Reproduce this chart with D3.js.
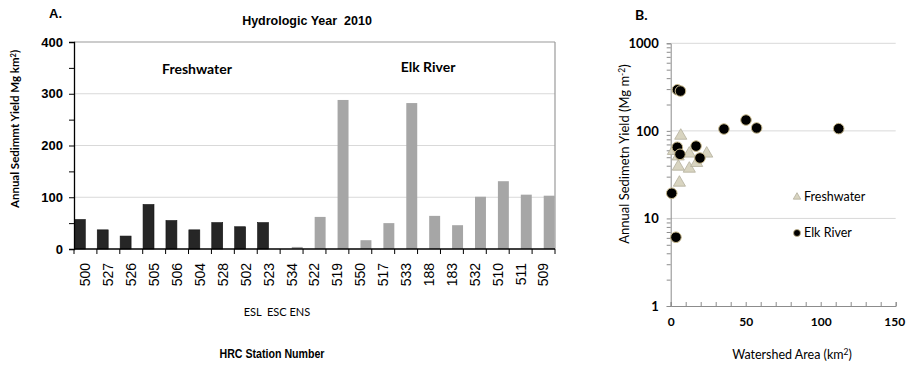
<!DOCTYPE html>
<html>
<head>
<meta charset="utf-8">
<script src="https://cdn.jsdelivr.net/npm/d3@7"></script>
<style>
  html, body { margin: 0; padding: 0; background: #fff; }
  svg { display: block; }
</style>
</head>
<body>
<svg id="chart" width="906" height="367"></svg>
<script>
// ---------------- DATA ----------------
const freshwaterStations = ["500", "527", "526", "505", "506", "504", "528", "502", "523"];
const freshwaterBarYield = [57, 37, 25, 86, 55, 37, 51, 43, 51];
const elkStations = ["534", "522", "519", "550", "517", "533", "188", "183", "532", "510", "511", "509"];
const elkBarYield = [4, 62, 288, 17, 50, 282, 64, 46, 101, 131, 105, 103];
const seriesNames = ["Freshwater", "Elk River"];
const yTicksA = [0, 50, 100, 150, 200, 250, 300, 350, 400];
const yLabelsA = [0, 100, 200, 300, 400];

// Panel B scatter (watershed area km², annual yield)
const freshwaterArea = [6.7, 1.8, 12.4, 24, 5.1, 12.4, 17.3, 5.8, 5.0];
const freshwaterScatterYield = [88, 59, 55, 55, 39, 37, 43, 25.6, 51];
const elkArea = [4.5, 6.5, 35.5, 50.2, 57.3, 112, 4.4, 16.9, 6.2, 19.5, 0.7, 3.5];
const elkScatterYield = [295, 285, 105, 133, 108, 106, 65, 67, 54, 49, 19.4, 6.1];
const yTicksB = [1, 10, 100, 1000];
const xTicksB = [0, 50, 100, 150];

// ---------------- STYLE ----------------
const ARIAL = "'Liberation Sans', Arial, sans-serif";
const CALIBRI = "Lato, Carlito, Calibri, sans-serif";

const svg = d3.select("#chart");

// ================= PANEL A =================
const A = { left: 74, right: 555, top: 42, bottom: 249 };
const categories = freshwaterStations.concat(elkStations);
const xA = d3.scaleBand().domain(categories).range([A.left, A.right]).padding(0);
const xSub = d3.scaleBand().domain(seriesNames).range([0, xA.bandwidth()])
  .paddingInner(0.03).paddingOuter(0.03);
const yA = d3.scaleLinear().domain([0, 400]).range([A.bottom, A.top]);

const gA = svg.append("g");

// gridlines
gA.append("g").selectAll("line")
  .data(yLabelsA.filter(d => d > 0 && d < 400))
  .join("line")
  .attr("x1", A.left).attr("x2", A.right)
  .attr("y1", d => yA(d)).attr("y2", d => yA(d))
  .attr("stroke", "#d9d9d9").attr("stroke-width", 1);

// top and right border
gA.append("line").attr("x1", A.left).attr("x2", A.right)
  .attr("y1", yA(400)).attr("y2", yA(400))
  .attr("stroke", "#9a9a9a").attr("stroke-width", 1.2);
gA.append("line").attr("x1", A.right).attr("x2", A.right)
  .attr("y1", yA(400)).attr("y2", yA(0))
  .attr("stroke", "#9a9a9a").attr("stroke-width", 1.2);

// bars
const barsData = [];
freshwaterStations.forEach((s, i) => barsData.push({ station: s, series: "Freshwater", value: freshwaterBarYield[i] }));
elkStations.forEach((s, i) => barsData.push({ station: s, series: "Elk River", value: elkBarYield[i] }));

gA.append("g").selectAll("rect")
  .data(barsData)
  .join("rect")
  .attr("x", d => xA(d.station) + xSub(d.series))
  .attr("width", xSub.bandwidth())
  .attr("y", d => yA(d.value))
  .attr("height", d => yA(0) - yA(d.value))
  .attr("fill", d => d.series === "Freshwater" ? "#262626" : "#a6a6a6")
  .attr("stroke", d => d.series === "Freshwater" ? "#111" : "none")
  .attr("stroke-width", 0.6);

// left axis
const yAxisA = d3.axisLeft(yA).tickValues(yTicksA).tickSize(5)
  .tickFormat(d => yLabelsA.includes(d) ? d : "");
const gyA = gA.append("g").attr("transform", `translate(${A.left},0)`).call(yAxisA);
gyA.select(".domain").attr("stroke", "#000").attr("stroke-width", 1.3);
gyA.selectAll(".tick line").attr("stroke", "#000");
gyA.selectAll(".tick text").attr("font-family", ARIAL).attr("font-weight", "bold")
  .attr("font-size", "13px").attr("fill", "#000").attr("x", -11);

// bottom axis: labels
const xAxisA = d3.axisBottom(xA).tickSize(0).tickPadding(0);
const gxA = gA.append("g").attr("transform", `translate(0,${A.bottom})`).call(xAxisA);
gxA.select(".domain").remove();
gxA.selectAll(".tick text")
  .attr("font-family", ARIAL).attr("font-size", "14px").attr("fill", "#000")
  .attr("transform", "rotate(-90)")
  .attr("text-anchor", "end")
  .attr("dy", "0.35em")
  .attr("x", -14).attr("y", 0);
// bottom axis line and boundary ticks
gA.append("line").attr("x1", A.left).attr("x2", A.right)
  .attr("y1", A.bottom).attr("y2", A.bottom)
  .attr("stroke", "#000").attr("stroke-width", 1.3);
const boundaries = categories.map(c => xA(c)).concat([xA.range()[1]]);
gA.append("g").selectAll("line")
  .data(boundaries)
  .join("line")
  .attr("x1", d => d).attr("x2", d => d)
  .attr("y1", A.bottom).attr("y2", A.bottom + 5)
  .attr("stroke", "#000").attr("stroke-width", 1);

// texts panel A
gA.append("text").text("A.").attr("x", 49).attr("y", 18)
  .attr("font-family", ARIAL).attr("font-weight", "bold").attr("font-size", "13px");
gA.append("text").text("Hydrologic Year  2010").attr("x", 307).attr("y", 25)
  .attr("text-anchor", "middle").attr("xml:space", "preserve")
  .attr("font-family", ARIAL).attr("font-weight", "bold").attr("font-size", "12.5px");
gA.append("text").text("Freshwater").attr("x", 197).attr("y", 74)
  .attr("text-anchor", "middle")
  .attr("font-family", CALIBRI).attr("font-weight", "bold").attr("font-size", "14px");
gA.append("text").text("Elk River").attr("x", 428).attr("y", 72)
  .attr("text-anchor", "middle")
  .attr("font-family", CALIBRI).attr("font-weight", "bold").attr("font-size", "14px");
gA.append("text").text("ESL  ESC ENS").attr("x", 277).attr("y", 316)
  .attr("text-anchor", "middle").attr("xml:space", "preserve")
  .attr("font-family", CALIBRI).attr("font-size", "11px");
gA.append("text").text("HRC Station Number").attr("x", 272).attr("y", 358)
  .attr("text-anchor", "middle")
  .attr("font-family", ARIAL).attr("font-weight", "bold").attr("font-size", "12px")
  .attr("textLength", 105).attr("lengthAdjust", "spacingAndGlyphs");
const yLabA = gA.append("text")
  .attr("transform", "translate(19,129) rotate(-90)")
  .attr("text-anchor", "middle")
  .attr("font-family", CALIBRI).attr("font-weight", "bold").attr("font-size", "11.5px");
yLabA.append("tspan").text("Annual Sedimmt Yield Mg km");
yLabA.append("tspan").text("2").attr("font-size", "7.5px").attr("dy", "-0.45em");
yLabA.append("tspan").text(")").attr("dy", "0.3em");

// ================= PANEL B =================
const B = { left: 670.7, right: 895.7, top: 43.3, bottom: 306 };
const xB = d3.scaleLinear().domain([0, 150]).range([B.left, B.right]);
const yB = d3.scaleLog().domain([1, 1000]).range([B.bottom, B.top]);
const gB = svg.append("g");

// gridlines
gB.append("g").selectAll("line")
  .data(yTicksB.filter(d => d > 1))
  .join("line")
  .attr("x1", B.left).attr("x2", B.right)
  .attr("y1", d => yB(d)).attr("y2", d => yB(d))
  .attr("stroke", "#d9d9d9").attr("stroke-width", 1);

// y axis with minor log ticks
const minorB = [];
[1, 10, 100].forEach(dec => { for (let k = 1; k <= 9; k++) minorB.push(k * dec); });
minorB.push(1000);
const yAxisB = d3.axisLeft(yB).tickValues(minorB).tickSize(4)
  .tickFormat(d => yTicksB.includes(d) ? d : "");
const gyB = gB.append("g").attr("transform", `translate(${B.left},0)`).call(yAxisB);
gyB.select(".domain").attr("stroke", "#8c8c8c");
gyB.selectAll(".tick line").attr("stroke", "#8c8c8c");
gyB.selectAll(".tick text").attr("font-family", CALIBRI).attr("font-weight", "bold")
  .attr("font-size", "13px").attr("fill", "#000").attr("x", -12);

// x axis
const xAxisB = d3.axisBottom(xB).tickValues(d3.range(0, 151, 10)).tickSize(-4)
  .tickFormat(d => xTicksB.includes(d) ? d : "");
const gxB = gB.append("g").attr("transform", `translate(0,${B.bottom})`).call(xAxisB);
gxB.select(".domain").attr("stroke", "#8c8c8c");
gxB.selectAll(".tick line").attr("stroke", "#8c8c8c");
gxB.selectAll(".tick text").attr("font-family", CALIBRI).attr("font-weight", "bold")
  .attr("font-size", "12px").attr("fill", "#000").attr("y", 11)
  .attr("text-anchor", d => d === 150 ? "end" : "middle")
  .attr("x", d => d === 150 ? 9 : 0);

// points: triangles first, circles on top
const tri = d3.symbol(d3.symbolTriangle, 64);
gB.append("g").selectAll("path")
  .data(freshwaterArea.map((a, i) => ({ a, y: freshwaterScatterYield[i] })))
  .join("path")
  .attr("d", tri)
  .attr("transform", d => `translate(${xB(d.a)},${yB(d.y)})`)
  .attr("fill", "#d8d4c0").attr("stroke", "#b3af9c").attr("stroke-width", 0.8);
gB.append("g").selectAll("circle")
  .data(elkArea.map((a, i) => ({ a, y: elkScatterYield[i] })))
  .join("circle")
  .attr("cx", d => xB(d.a)).attr("cy", d => yB(d.y))
  .attr("r", 5.3)
  .attr("fill", "#000").attr("stroke", "#c8b98c").attr("stroke-width", 1);

// legend
gB.append("path").attr("d", d3.symbol(d3.symbolTriangle, 24))
  .attr("transform", "translate(797,197)")
  .attr("fill", "#d8d4c0").attr("stroke", "#b3af9c").attr("stroke-width", 0.8);
gB.append("text").text("Freshwater").attr("x", 804).attr("y", 197).attr("dy", "0.35em")
  .attr("font-family", CALIBRI).attr("font-size", "12.5px");
gB.append("circle").attr("cx", 797).attr("cy", 233).attr("r", 3.5)
  .attr("fill", "#000").attr("stroke", "#c8b98c").attr("stroke-width", 0.8);
gB.append("text").text("Elk River").attr("x", 804).attr("y", 233).attr("dy", "0.35em")
  .attr("font-family", CALIBRI).attr("font-size", "12.5px");

// texts panel B
gB.append("text").text("B.").attr("x", 635).attr("y", 20)
  .attr("font-family", CALIBRI).attr("font-weight", "bold").attr("font-size", "14px");
const xLabB = gB.append("text").attr("x", 792).attr("y", 359).attr("text-anchor", "middle")
  .attr("font-family", CALIBRI).attr("font-size", "12.5px");
xLabB.append("tspan").text("Watershed Area (km");
xLabB.append("tspan").text("2").attr("font-size", "8.5px").attr("dy", "-0.45em");
xLabB.append("tspan").text(")").attr("dy", "0.3em");
const yLabB = gB.append("text")
  .attr("transform", "translate(629,154) rotate(-90)")
  .attr("text-anchor", "middle")
  .attr("font-family", CALIBRI).attr("font-size", "13px");
yLabB.append("tspan").text("Annual Sedimetn Yield (Mg m");
yLabB.append("tspan").text("-2").attr("font-size", "8.5px").attr("dy", "-0.45em");
yLabB.append("tspan").text(")").attr("dy", "0.3em");
</script>
</body>
</html>
